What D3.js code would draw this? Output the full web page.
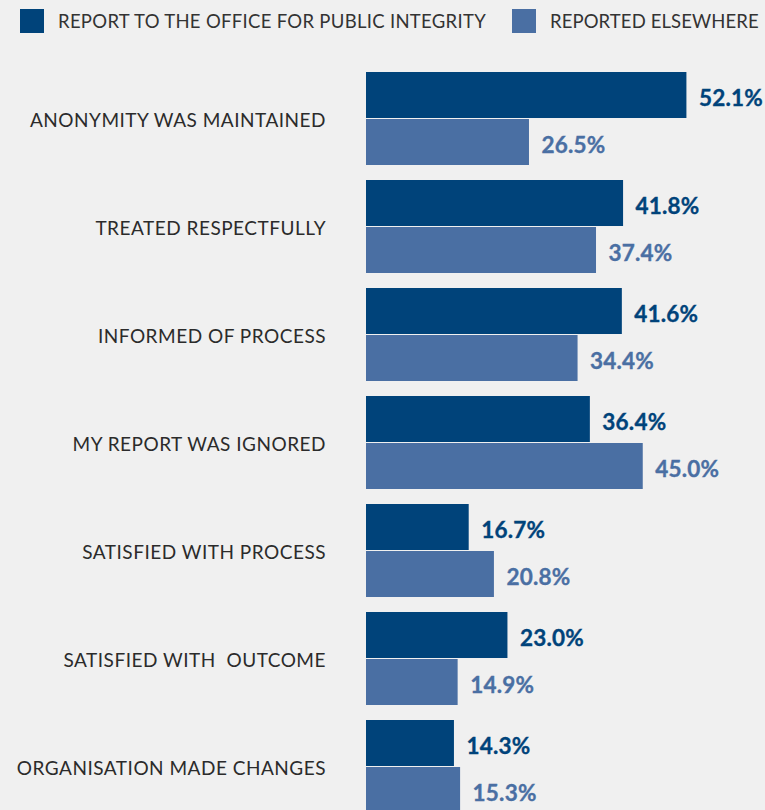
<!DOCTYPE html>
<html>
<head>
<meta charset="utf-8">
<script src="https://cdn.jsdelivr.net/npm/d3@7"></script>
<style>
  html, body { margin: 0; padding: 0; background: #f0f0f0; }
  svg { display: block; }
  text { white-space: pre; }
</style>
</head>
<body>
<svg id="chart" width="765" height="810"></svg>
<script>
// Survey outcomes by where the report was made (percent of respondents)
const categories = [
  "ANONYMITY WAS MAINTAINED",
  "TREATED RESPECTFULLY",
  "INFORMED OF PROCESS",
  "MY REPORT WAS IGNORED",
  "SATISFIED WITH PROCESS",
  "SATISFIED WITH  OUTCOME",
  "ORGANISATION MADE CHANGES"
];
const seriesNames = ["REPORT TO THE OFFICE FOR PUBLIC INTEGRITY", "REPORTED ELSEWHERE"];
const officeValues = [52.1, 41.8, 41.6, 36.4, 16.7, 23.0, 14.3];
const elsewhereValues = [26.5, 37.4, 34.4, 45.0, 20.8, 14.9, 15.3];

const colors = ["#00437a", "#4a6fa3"];
const seriesKeys = ["office", "elsewhere"];

const rows = categories.map((c, i) => ({
  category: c,
  values: [
    { key: "office", value: officeValues[i] },
    { key: "elsewhere", value: elsewhereValues[i] }
  ]
}));

const svg = d3.select("#chart");

const x = d3.scaleLinear().domain([0, 60]).range([366, 735]);
const y = d3.scaleBand().domain(categories).range([72, 813]).paddingInner(15 / 108).paddingOuter(0);
const yInner = d3.scaleBand().domain(seriesKeys).range([0, y.bandwidth()]).paddingInner(0.0213);
const color = d3.scaleOrdinal().domain(seriesKeys).range(colors);

// Legend
const legend = svg.append("g").attr("class", "legend");
const legendX = [20, 512];
const legendSpacing = [0.3, 0.1];
seriesNames.forEach((name, i) => {
  const g = legend.append("g").attr("transform", `translate(${legendX[i]},9)`);
  g.append("rect").attr("width", 24).attr("height", 24).attr("fill", colors[i]);
  g.append("text")
    .attr("x", 38).attr("y", 19)
    .attr("font-family", "Lato, 'Noto Sans', sans-serif")
    .attr("font-size", 18.5)
    .attr("letter-spacing", legendSpacing[i])
    .attr("fill", "#333")
    .text(name);
});

// Category labels
svg.append("g").selectAll("text")
  .data(categories)
  .join("text")
  .attr("x", 326)
  .attr("y", d => y(d) + y.bandwidth() / 2 + 8.5)
  .attr("text-anchor", "end")
  .attr("font-family", "Lato, 'Noto Sans', sans-serif")
  .attr("font-size", 19)
  .attr("letter-spacing", 0.5)
  .attr("fill", "#2b2b2b")
  .text(d => d);

// Bars and value labels
const groups = svg.append("g").selectAll("g")
  .data(rows)
  .join("g")
  .attr("transform", d => `translate(0,${y(d.category)})`);

groups.selectAll("rect")
  .data(d => d.values)
  .join("rect")
  .attr("x", x(0))
  .attr("y", d => yInner(d.key))
  .attr("width", d => x(d.value) - x(0))
  .attr("height", yInner.bandwidth())
  .attr("fill", d => color(d.key));

groups.selectAll("text")
  .data(d => d.values)
  .join("text")
  .attr("x", d => x(d.value) + 12.5)
  .attr("y", d => yInner(d.key) + yInner.bandwidth() / 2 + 11)
  .attr("font-family", "Lato, 'Noto Sans', sans-serif")
  .attr("font-weight", 700)
  .attr("font-size", 22.5)
  .attr("letter-spacing", 0.2)
  .attr("stroke", d => color(d.key))
  .attr("stroke-width", 0.35)
  .attr("fill", d => color(d.key))
  .text(d => d.value.toFixed(1) + "%");
</script>
</body>
</html>
